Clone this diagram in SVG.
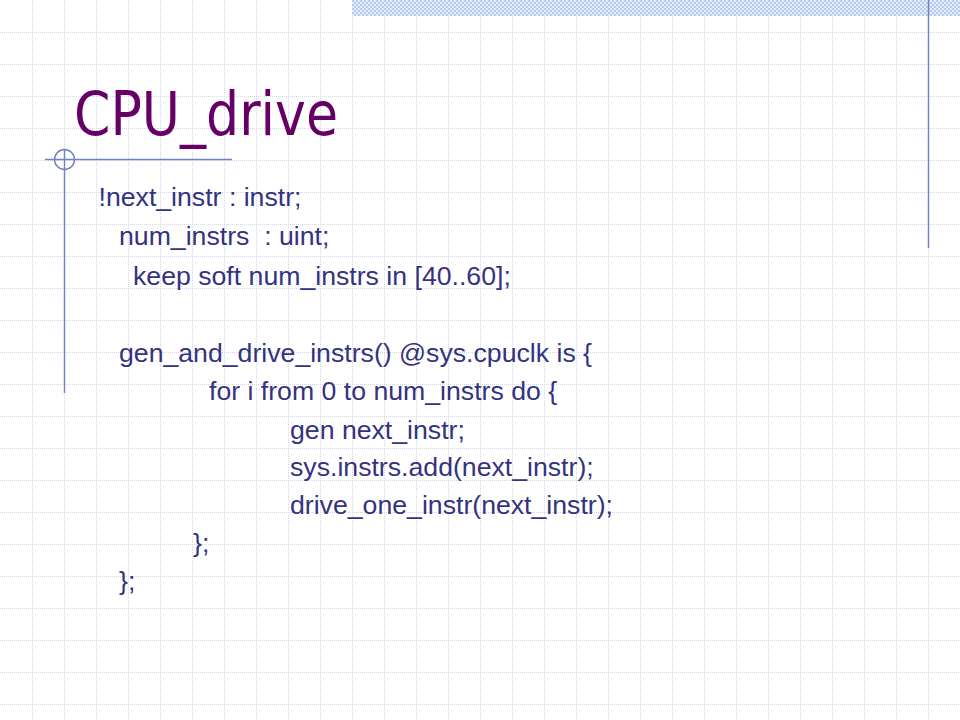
<svg xmlns="http://www.w3.org/2000/svg" width="960" height="720" viewBox="0 0 960 720">
  <defs>
    <pattern id="checker" x="0" y="0" width="4" height="4" patternUnits="userSpaceOnUse">
      <rect width="4" height="4" fill="#e6edfa"/>
      <rect x="0" y="0" width="2" height="2" fill="#b9cbee"/>
      <rect x="2" y="2" width="2" height="2" fill="#b9cbee"/>
    </pattern>
    <style>
      .grid { stroke: #d4d4ec; stroke-width: 1; stroke-dasharray: 1 1; fill: none; }
      .deco { stroke: #7282c4; stroke-width: 1.5; fill: none; }
      .title { font-family: "DejaVu Sans Condensed", "DejaVu Sans", sans-serif; font-size: 60px; fill: #660066; }
      .code { font-family: "Liberation Sans", Arial, sans-serif; font-size: 26.67px; fill: #333380; white-space: pre; }
    </style>
  </defs>

  <rect width="960" height="720" fill="#ffffff"/>

  <g id="grid">
    <path class="grid" d="M32.5 0V720M64.5 0V720M96.5 0V720M128.5 0V720M160.5 0V720M192.5 0V720M224.5 0V720M256.5 0V720M288.5 0V720M320.5 0V720M352.5 0V720M384.5 0V720M416.5 0V720M448.5 0V720M480.5 0V720M512.5 0V720M544.5 0V720M576.5 0V720M608.5 0V720M640.5 0V720M672.5 0V720M704.5 0V720M736.5 0V720M768.5 0V720M800.5 0V720M832.5 0V720M864.5 0V720M896.5 0V720M928.5 0V720"/>
    <path class="grid" d="M0 32.5H960M0 64.5H960M0 96.5H960M0 128.5H960M0 160.5H960M0 192.5H960M0 224.5H960M0 256.5H960M0 288.5H960M0 320.5H960M0 352.5H960M0 384.5H960M0 416.5H960M0 448.5H960M0 480.5H960M0 512.5H960M0 544.5H960M0 576.5H960M0 608.5H960M0 640.5H960M0 672.5H960M0 704.5H960"/>
  </g>

  <g id="banner">
    <rect x="352" y="0" width="608" height="16" fill="url(#checker)"/>
  </g>

  <g id="decoration">
    <line class="deco" x1="928.5" y1="0" x2="928.5" y2="248"/>
    <line class="deco" x1="45" y1="159.5" x2="232" y2="159.5"/>
    <line class="deco" x1="64.5" y1="149" x2="64.5" y2="393"/>
    <circle class="deco" cx="64.5" cy="159.5" r="10"/>
  </g>

  <g id="title">
    <text class="title" x="74" y="135" textLength="264" lengthAdjust="spacingAndGlyphs">CPU_drive</text>
  </g>

  <g id="code">
    <text class="code" x="98.5" y="206">!next_instr : instr;</text>
    <text class="code" x="119" y="245" xml:space="preserve">num_instrs  : uint;</text>
    <text class="code" x="133" y="285">keep soft num_instrs in [40..60];</text>
    <text class="code" x="119" y="362">gen_and_drive_instrs() @sys.cpuclk is {</text>
    <text class="code" x="209" y="400">for i from 0 to num_instrs do {</text>
    <text class="code" x="290" y="439">gen next_instr;</text>
    <text class="code" x="290" y="476">sys.instrs.add(next_instr);</text>
    <text class="code" x="290" y="514">drive_one_instr(next_instr);</text>
    <text class="code" x="193" y="552">};</text>
    <text class="code" x="119" y="590">};</text>
  </g>
</svg>
